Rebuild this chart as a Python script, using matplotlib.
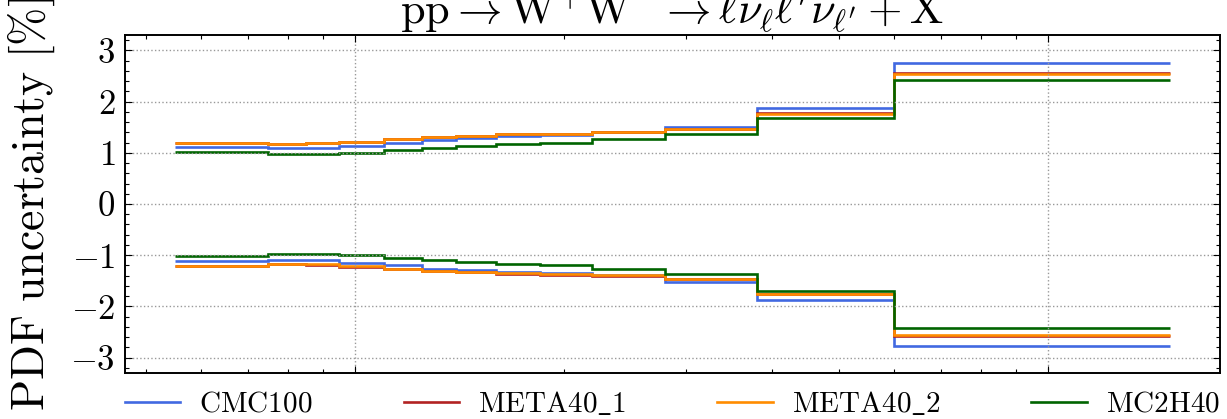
# -*- coding: utf-8 -*-
"""
PDF-Unsicherheit fuer pp -> WW in Bins der invarianten Masse,
Vergleich verschiedener PDF-Sets (Stufenplot).
"""
import matplotlib
matplotlib.use("Agg")
import matplotlib.pyplot as plt
from matplotlib.ticker import MultipleLocator, LogLocator, NullFormatter

plt.rcParams['font.family'] = 'serif'
plt.rcParams['font.serif'] = ['cmr10']
plt.rcParams['mathtext.fontset'] = 'cm'
plt.rcParams['axes.formatter.use_mathtext'] = True

# Binkanten
edges = [55, 75, 85, 95, 110, 125, 140, 160, 185, 220, 280, 380, 600, 1500]

# obere / untere Unsicherheit in Prozent
cmc100_up = [1.11, 1.085, 1.10, 1.13, 1.19, 1.24, 1.285, 1.32, 1.345, 1.40, 1.50, 1.87, 2.76]
cmc100_dn = [-1.12, -1.09, -1.10, -1.15, -1.195, -1.26, -1.285, -1.325, -1.345, -1.39, -1.515, -1.875, -2.77]
meta1_up = [1.20, 1.18, 1.195, 1.215, 1.27, 1.31, 1.335, 1.37, 1.375, 1.415, 1.46, 1.772, 2.56]
meta1_dn = [-1.21, -1.175, -1.185, -1.225, -1.265, -1.31, -1.335, -1.36, -1.38, -1.40, -1.468, -1.766, -2.575]
meta2_up = [1.195, 1.175, 1.19, 1.21, 1.265, 1.305, 1.33, 1.365, 1.37, 1.41, 1.455, 1.765, 2.545]
meta2_dn = [-1.205, -1.17, -1.18, -1.22, -1.26, -1.305, -1.33, -1.355, -1.375, -1.395, -1.465, -1.76, -2.565]
mc2h_up = [1.013, 0.968, 0.974, 1.0, 1.045, 1.097, 1.123, 1.169, 1.20, 1.26, 1.364, 1.688, 2.416]
mc2h_dn = [-1.02, -0.975, -0.975, -0.987, -1.045, -1.097, -1.13, -1.17, -1.20, -1.265, -1.37, -1.695, -2.43]

labels = [r'$\mathrm{CMC100}$', r'$\mathrm{META40\_1}$',
          r'$\mathrm{META40\_2}$', r'$\mathrm{MC2H40}$']
colors = ['#4169e1', '#b22222', '#ff8c00', '#006400']
series = [(cmc100_up, cmc100_dn), (meta1_up, meta1_dn),
          (meta2_up, meta2_dn), (mc2h_up, mc2h_dn)]

fig = plt.figure(figsize=(12.27, 4.19), dpi=100)
ax = fig.add_axes([0.1019, 0.1098, 0.8924, 0.8067])

for (up, dn), col, lab in zip(series, colors, labels):
    ax.stairs(up, edges, baseline=None, color=col, lw=1.9, label=lab)
    ax.stairs(dn, edges, baseline=None, color=col, lw=1.9)

ax.set_xscale('log')
ax.set_xlim(46.6, 1770)
ax.set_ylim(-3.3, 3.3)
ax.yaxis.set_major_locator(MultipleLocator(1))
ax.yaxis.set_minor_locator(MultipleLocator(0.2))
ax.xaxis.set_major_locator(LogLocator(base=10))
ax.xaxis.set_minor_locator(LogLocator(base=10, subs=range(2, 10)))
ax.xaxis.set_minor_formatter(NullFormatter())

ax.tick_params(which='both', direction='in', top=True, right=True,
               labelbottom=False, width=0.8)
ax.tick_params(which='major', length=5, labelsize=25, pad=7)
ax.tick_params(which='minor', length=3)
for sp in ax.spines.values():
    sp.set_linewidth(1.4)

ax.grid(True, which='major', ls=':', color='#999999', lw=1.0)

ax.set_ylabel(r'$\mathrm{PDF\ uncertainty\ [\%]}$', fontsize=33)
ax.yaxis.set_label_coords(-0.062, 0.5)
ax.set_title(r'$\mathrm{pp} \rightarrow \mathrm{W}^{+}\mathrm{W}^{-} \rightarrow '
             r'\ell\nu_{\ell}\ell^{\prime}\nu_{\ell^{\prime}} + \mathrm{X}$',
             fontsize=32, pad=8)

ax.legend(loc='upper left', bbox_to_anchor=(0, -0.05, 1, 0), mode='expand',
          ncol=4, frameon=False, fontsize=21, borderaxespad=0, borderpad=0,
          handlelength=1.9, handletextpad=0.65)

plt.savefig('out.png', dpi=100)
